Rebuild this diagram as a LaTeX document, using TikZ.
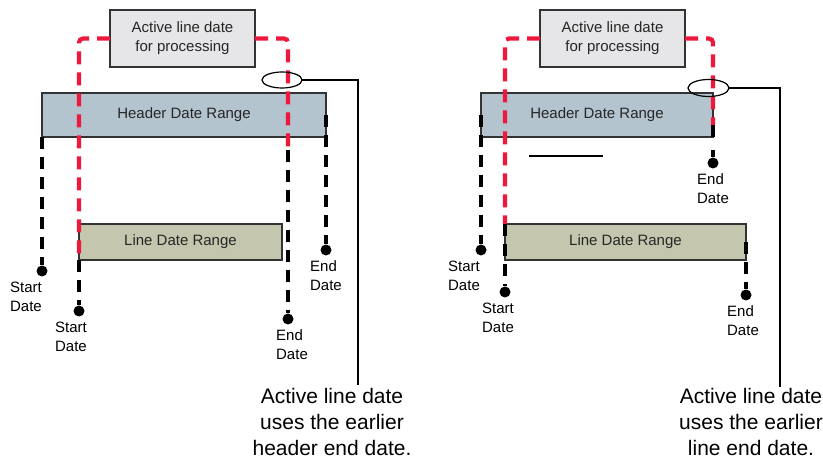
\documentclass[tikz,border=0pt]{standalone}
\usepackage{fontspec}
\setmainfont{Liberation Sans}
\usetikzlibrary{positioning,shapes.geometric}

\definecolor{hdrfill}{RGB}{180,196,207}
\definecolor{linefill}{RGB}{196,199,173}
\definecolor{actfill}{RGB}{230,230,232}
\definecolor{actred}{RGB}{237,24,60}
\definecolor{boxedge}{RGB}{51,51,51}

\tikzset{
  rangebox/.style={draw=boxedge, line width=1.2pt, inner sep=0pt, outer sep=0pt, text=black!85, font=\fontsize{15}{19}\selectfont, align=center},
  datelink/.style={line width=4.2pt, dash pattern=on 12pt off 8pt},
  activeln/.style={actred, line width=4.2pt, dash pattern=on 13pt off 8pt, rounded corners=4pt},
  datedot/.style={circle, fill=black, inner sep=0pt, minimum size=11pt},
  datelbl/.style={inner sep=0pt, align=left, font=\fontsize{15}{19}\selectfont},
  pick/.style={ellipse, draw, line width=1.2pt, inner sep=0pt, outer sep=0pt},
  callout/.style={line width=1.5pt},
  calltxt/.style={inner sep=0pt, align=center, font=\fontsize{21}{26}\selectfont}
}

\begin{document}
\begin{tikzpicture}[x=1pt, y=-1pt]
\useasboundingbox (0,0) rectangle (823,462);

% left: the header ends first
\node[rangebox, fill=actfill, minimum width=145pt, minimum height=57pt] (act1) at (182.5,38.5) {Active line date\\for processing};
\node[rangebox, fill=hdrfill, minimum width=284pt, minimum height=44pt] (hdr1) at (184,115) {Header Date Range};
\node[rangebox, fill=linefill, minimum width=203pt, minimum height=36pt] (ln1) at (180.5,242) {Line Date Range};

% date ends
\node[datedot] (hs1) at (42,271) {};
\node[datedot] (he1) at (326,250) {};
\node[datedot] (ls1) at (79,311) {};
\node[datedot] (le1) at (288,319) {};
\coordinate (hc1) at (288,150);

\draw[datelink] (hdr1.south west) -- (hs1);
\draw[datelink] (hdr1.east) -- (he1);
\draw[datelink] (ln1.south west) -- (ls1);
\draw[datelink] (hc1) -- (le1);

% active range
\draw[activeln] (act1.west) -| (ln1.south west);
\draw[activeln] (act1.east) -| (hc1);

\node[datelbl, below=5pt of hs1, xshift=-16pt] (hs1t) {Start\\Date};
\node[datelbl, below=5pt of he1] (he1t) {End\\Date};
\node[datelbl, below=5pt of ls1, xshift=-8pt] (ls1t) {Start\\Date};
\node[datelbl, below=5pt of le1, xshift=4pt] (le1t) {End\\Date};

% callout
\node[pick, minimum width=40pt, minimum height=16pt] (pk1) at (282,80) {};
\coordinate (cl1) at (358,385);
\draw[callout] (pk1.east) -| (cl1);
\node[calltxt, below=3pt of cl1, xshift=-26pt] (cl1t) {Active line date\\uses the earlier\\header end date.};

% right: the line ends first
\node[rangebox, fill=actfill, minimum width=145pt, minimum height=57pt] (act2) at (612.5,38.5) {Active line date\\for processing};
\node[rangebox, fill=hdrfill, minimum width=232pt, minimum height=44pt] (hdr2) at (597,115) {Header Date Range};
\node[rangebox, fill=linefill, minimum width=241pt, minimum height=36pt] (ln2) at (625.5,242) {Line Date Range};

% date ends
\node[datedot] (hs2) at (481,250) {};
\node[datedot] (he2) at (713,163) {};
\node[datedot] (ls2) at (505,292) {};
\node[datedot] (le2) at (746,295) {};
\coordinate (hc2) at (713,125);

\draw[datelink] (hdr2.west) -- (hs2);
\draw[datelink, dash pattern=on 12pt off 13pt] (hc2) -- (he2);
\draw[datelink] (ln2.north west) -- (ls2);
\draw[datelink] (ln2.east) -- (le2);
\draw[line width=1.3pt] (529,156) -- (603,156);

% active range
\draw[activeln] (act2.west) -| (ln2.north west);
\draw[activeln] (act2.east) -| (hc2);

\node[datelbl, below=5pt of hs2, xshift=-17pt] (hs2t) {Start\\Date};
\node[datelbl, below=5pt of he2] (he2t) {End\\Date};
\node[datelbl, below=5pt of ls2, xshift=-7pt] (ls2t) {Start\\Date};
\node[datelbl, below=5pt of le2, xshift=-3pt] (le2t) {End\\Date};

% callout
\node[pick, minimum width=41pt, minimum height=17pt] (pk2) at (708.5,88) {};
\coordinate (cl2) at (780,387);
\draw[callout] (pk2.east) -| (cl2);
\node[calltxt, below=1pt of cl2, xshift=-29pt] (cl2t) {Active line date\\uses the earlier\\line end date.};

\end{tikzpicture}
\end{document}
